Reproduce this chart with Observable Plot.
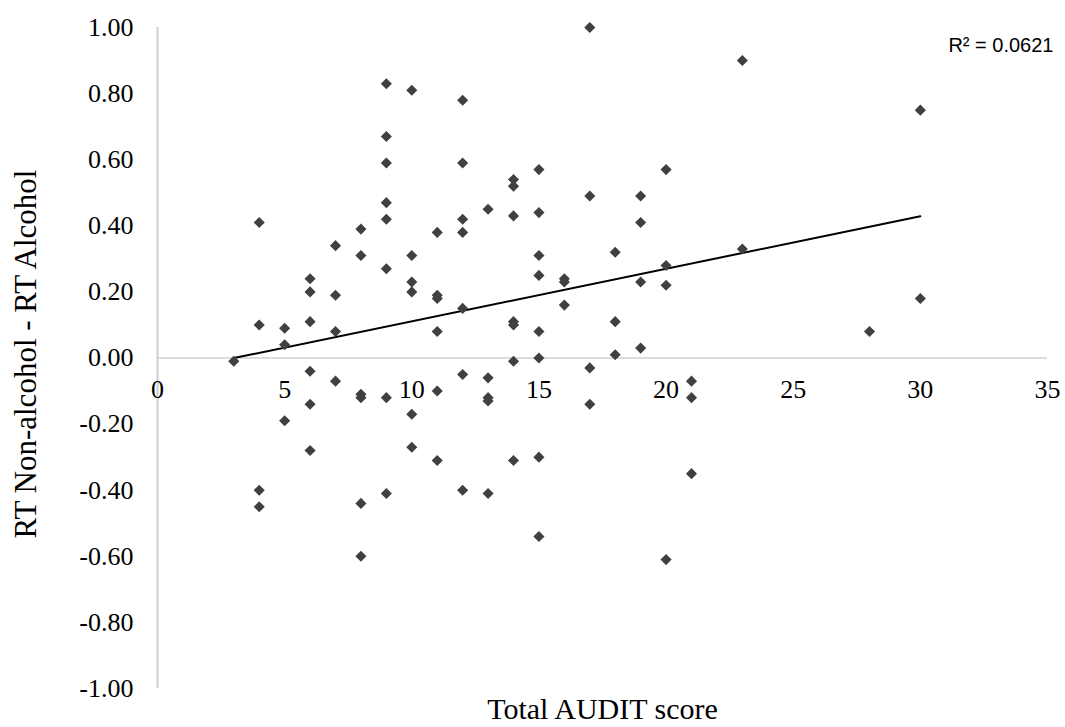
<!DOCTYPE html>
<html>
<head>
<meta charset="utf-8">
<script src="https://cdn.jsdelivr.net/npm/d3@7"></script>
<script src="https://cdn.jsdelivr.net/npm/@observablehq/plot@0.6"></script>
<style>
  html, body { margin: 0; padding: 0; background: #ffffff; }
  #chart svg { display: block; }
</style>
</head>
<body>
<div id="chart"></div>
<script>
// Total AUDIT score (x) for each participant
const auditScore = [
  3,
  4, 4, 4, 4,
  5, 5, 5,
  6, 6, 6, 6, 6, 6,
  7, 7, 7, 7,
  8, 8, 8, 8, 8, 8,
  9, 9, 9, 9, 9, 9, 9, 9,
  10, 10, 10, 10, 10, 10,
  11, 11, 11, 11, 11, 11,
  12, 12, 12, 12, 12, 12, 12,
  13, 13, 13, 13, 13,
  14, 14, 14, 14, 14, 14, 14,
  15, 15, 15, 15, 15, 15, 15, 15,
  16, 16, 16,
  17, 17, 17, 17,
  18, 18, 18,
  19, 19, 19, 19,
  20, 20, 20, 20,
  21, 21, 21,
  23, 23,
  28,
  30, 30
];
// RT Non-alcohol - RT Alcohol (y) for each participant
const rtDifference = [
  -0.01,
  0.41, 0.10, -0.40, -0.45,
  0.09, 0.04, -0.19,
  0.24, 0.20, 0.11, -0.04, -0.14, -0.28,
  0.34, 0.19, 0.08, -0.07,
  0.39, 0.31, -0.11, -0.12, -0.44, -0.60,
  0.83, 0.67, 0.59, 0.47, 0.42, 0.27, -0.12, -0.41,
  0.81, 0.31, 0.23, 0.20, -0.17, -0.27,
  0.38, 0.19, 0.18, 0.08, -0.10, -0.31,
  0.78, 0.59, 0.42, 0.38, 0.15, -0.05, -0.40,
  0.45, -0.06, -0.12, -0.13, -0.41,
  0.54, 0.52, 0.43, 0.11, 0.10, -0.01, -0.31,
  0.57, 0.44, 0.31, 0.25, 0.08, 0.00, -0.30, -0.54,
  0.24, 0.23, 0.16,
  1.00, 0.49, -0.03, -0.14,
  0.32, 0.11, 0.01,
  0.49, 0.41, 0.23, 0.03,
  0.57, 0.28, 0.22, -0.61,
  -0.07, -0.12, -0.35,
  0.90, 0.33,
  0.08,
  0.75, 0.18
];
// Linear trendline coefficients as shown in the original (Excel fit)
const trendSlope = 0.0159;
const trendIntercept = -0.048;

const xTicks = [0, 5, 10, 15, 20, 25, 30, 35];
const yTicks = [-1.0, -0.8, -0.6, -0.4, -0.2, 0.0, 0.2, 0.4, 0.6, 0.8, 1.0];
const r2Label = ["R² = 0.0621"];
const xTitle = ["Total AUDIT score"];
const yTitle = ["RT Non-alcohol - RT Alcohol"];

const data = auditScore.map((s, i) => ({score: s, diff: rtDifference[i]}));
const trendData = d3.extent(auditScore).map(s => ({score: s, diff: trendSlope * s + trendIntercept}));

const serif = "'Liberation Serif', 'Times New Roman', serif";
const axisGray = "#d0d0d0";

const chart = Plot.plot({
  width: 1065,
  height: 727,
  marginLeft: 157,
  marginRight: 18,
  marginTop: 27,
  marginBottom: 39,
  style: {fontFamily: serif, background: "#ffffff", color: "#000000"},
  x: {domain: [0, 35], axis: null},
  y: {domain: [-1, 1], axis: null},
  marks: [
    Plot.ruleX([0], {y1: -1, y2: 1, stroke: axisGray, strokeWidth: 2}),
    Plot.ruleY([0], {x1: 0, x2: 35, stroke: axisGray, strokeWidth: 1.5}),
    Plot.axisY(yTicks, {
      tickSize: 0, tickPadding: 24, label: null,
      tickFormat: d => d.toFixed(2),
      fontSize: 26, fontFamily: serif, fill: "#000000"
    }),
    Plot.text(xTicks, {
      x: d => d, y: () => 0, dy: 32, text: d => String(d),
      fontSize: 26, fontFamily: serif, fill: "#000000"
    }),
    Plot.line(trendData, {x: "score", y: "diff", stroke: "#000000", strokeWidth: 2}),
    Plot.dot(data, {x: "score", y: "diff", symbol: "diamond2", r: 5, fill: "#404040", stroke: "none"}),
    Plot.text(r2Label, {
      frameAnchor: "top-right", dx: 6, dy: 18, textAnchor: "end", lineAnchor: "middle",
      fontSize: 20, fontFamily: "'Liberation Sans', Arial, sans-serif", fill: "#000000"
    }),
    Plot.text(xTitle, {
      frameAnchor: "bottom", dy: 21, lineAnchor: "middle", textAnchor: "middle",
      fontSize: 30, fontFamily: serif, fill: "#000000"
    }),
    Plot.text(yTitle, {
      frameAnchor: "left", dx: -131, dy: -4, rotate: -90, textAnchor: "middle", lineAnchor: "middle",
      fontSize: 31, fontFamily: serif, fill: "#000000"
    })
  ]
});

document.getElementById("chart").appendChild(chart);
</script>
</body>
</html>
